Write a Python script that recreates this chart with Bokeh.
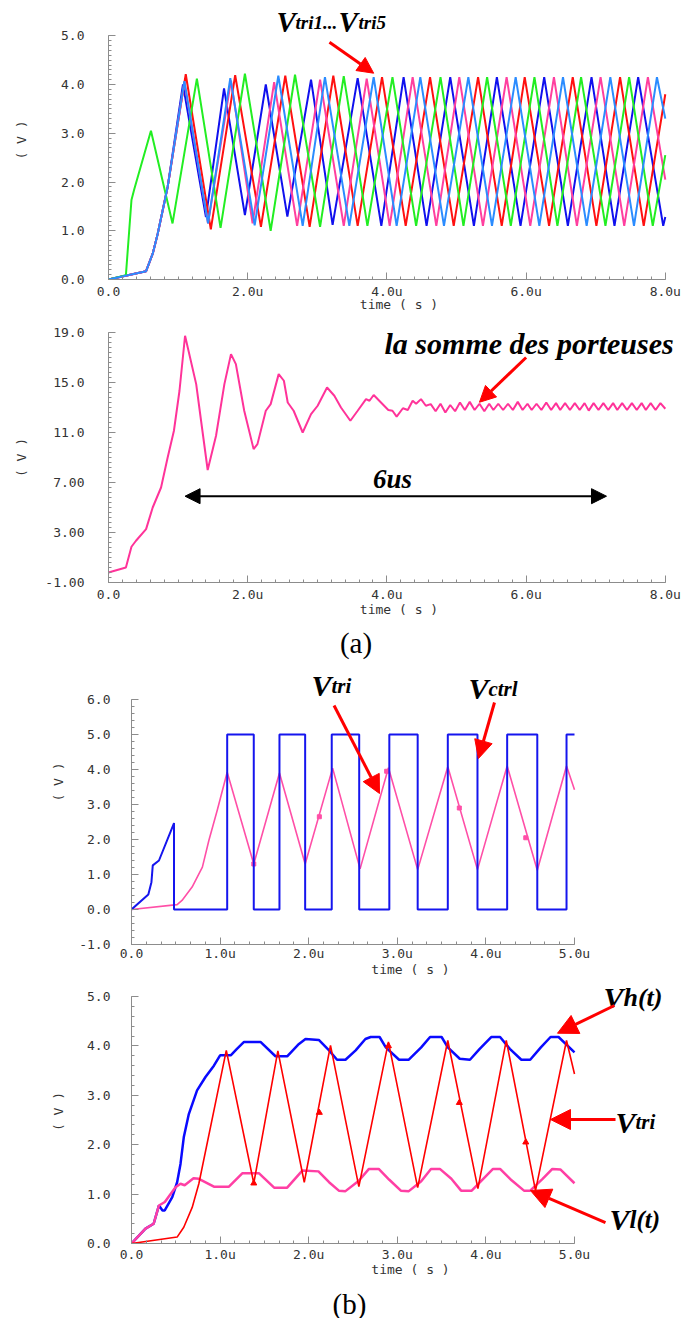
from bokeh.plotting import figure
from bokeh.models import Range1d, FixedTicker, Label, Arrow, NormalHead, Div
from bokeh.layouts import column
from bokeh.embed import file_html
from bokeh.resources import INLINE

# ---------------- data (time in microseconds, voltage in V) ----------------
# (a) top: five phase-shifted triangular carriers
red_t = [0, 0.54, 0.635, 0.707, 0.85, 1.11, 1.47, 1.82, 2.19, 2.54, 2.89, 3.23, 3.58, 3.93, 4.27, 4.62, 4.96, 5.31, 5.65, 5.98, 6.33, 6.67, 7.01, 7.35, 7.69, 8.0]
red_v = [0, 0.17, 0.53, 0.94, 1.9, 4.21, 1.03, 4.19, 1.08, 4.18, 1.08, 4.18, 1.10, 4.15, 1.10, 4.15, 1.10, 4.15, 1.10, 4.15, 1.10, 4.15, 1.10, 4.15, 1.10, 3.8]
green_t = [0, 0.25, 0.33, 0.37, 0.61, 0.92, 1.27, 1.61, 1.96, 2.33, 2.68, 3.04, 3.38, 3.72, 4.08, 4.42, 4.77, 5.10, 5.44, 5.78, 6.12, 6.45, 6.79, 7.14, 7.48, 7.82, 8.0]
green_v = [0, 0.09, 1.63, 1.85, 3.05, 1.15, 4.12, 1.06, 4.22, 1.00, 4.20, 1.08, 4.17, 1.10, 4.15, 1.10, 4.15, 1.10, 4.15, 1.10, 4.15, 1.10, 4.15, 1.10, 4.15, 1.10, 2.55]
blue_t = [0, 0.54, 0.635, 0.707, 0.85, 1.07, 1.40, 1.66, 1.96, 2.26, 2.57, 2.91, 3.22, 3.58, 3.92, 4.24, 4.57, 4.91, 5.25, 5.58, 5.92, 6.26, 6.60, 6.94, 7.27, 7.61, 7.97, 8.0]
blue_v = [0, 0.17, 0.53, 0.94, 1.9, 4.0, 1.28, 3.92, 1.32, 4.00, 1.29, 4.10, 1.12, 4.13, 1.10, 4.15, 1.10, 4.15, 1.10, 4.15, 1.10, 4.15, 1.10, 4.15, 1.10, 4.15, 1.10, 1.28]
pink_t = [0, 0.54, 0.635, 0.707, 0.85, 1.09, 1.43, 1.76, 2.07, 2.38, 2.71, 3.04, 3.38, 3.71, 4.04, 4.37, 4.71, 5.04, 5.38, 5.72, 6.06, 6.40, 6.73, 7.07, 7.41, 7.75, 8.0]
pink_v = [0, 0.17, 0.53, 0.94, 1.9, 4.05, 1.15, 4.08, 1.15, 4.05, 1.10, 4.10, 1.10, 4.12, 1.10, 4.15, 1.10, 4.15, 1.10, 4.15, 1.10, 4.15, 1.10, 4.15, 1.10, 4.15, 2.05]
lblue_t = [0, 0.54, 0.635, 0.707, 0.85, 1.09, 1.43, 1.75, 2.10, 2.44, 2.79, 3.11, 3.46, 3.81, 4.14, 4.48, 4.82, 5.17, 5.51, 5.85, 6.19, 6.53, 6.87, 7.21, 7.55, 7.88, 8.0]
lblue_v = [0, 0.17, 0.53, 0.94, 1.9, 4.07, 1.15, 4.13, 1.11, 4.18, 1.10, 4.15, 1.10, 4.15, 1.10, 4.15, 1.10, 4.15, 1.10, 4.15, 1.10, 4.15, 1.10, 4.15, 1.10, 4.15, 3.3]

# (a) bottom: sum of the carriers
sum_t = [0, 0.25, 0.33, 0.395, 0.54, 0.635, 0.755, 0.85, 0.94, 1.02, 1.10, 1.26, 1.33, 1.425, 1.545, 1.665, 1.76, 1.83, 1.95, 2.085,
         2.14, 2.26, 2.33, 2.445, 2.52, 2.575, 2.66, 2.79, 2.91, 3.005, 3.14, 3.245, 3.34, 3.475, 3.58, 3.70, 3.75, 3.81, 3.915, 4.02,
         4.08, 4.14, 4.23, 4.30, 4.37, 4.42, 4.49, 4.56, 4.63, 4.70, 4.77, 4.84, 4.91, 4.98, 5.05, 5.12, 5.19, 5.26, 5.33, 5.40,
         5.47, 5.53, 5.60, 5.67, 5.74, 5.81, 5.88, 5.95, 6.02, 6.08, 6.15, 6.22, 6.29, 6.36, 6.43, 6.49, 6.56, 6.63, 6.70, 6.77,
         6.84, 6.90, 6.97, 7.04, 7.11, 7.18, 7.25, 7.31, 7.38, 7.45, 7.52, 7.59, 7.66, 7.72, 7.79, 7.86, 7.93, 8.0]
sum_v = [-0.2, 0.2, 1.86, 2.34, 3.27, 5.0, 6.6, 9.0, 11.14, 14.34, 18.74, 14.87, 11.94, 8.0, 10.74, 14.87, 17.27, 16.47, 12.74, 9.67,
         10.07, 12.74, 13.27, 15.67, 15.14, 13.4, 12.74, 11.0, 12.47, 13.14, 14.6, 13.94, 13.0, 11.94, 12.74, 13.67, 13.54, 14.0, 13.4, 12.8,
         12.74, 12.27, 12.94, 12.8, 13.54, 13.3, 13.67, 13.14, 13.27, 12.7, 13.3, 12.6, 13.2, 12.7, 13.4, 12.8, 13.45, 12.8, 13.3, 12.7,
         13.3, 12.8, 13.3, 12.8, 13.3, 12.8, 13.45, 12.8, 13.3, 12.8, 13.3, 12.8, 13.4, 12.8, 13.35, 12.8, 13.35, 12.8, 13.35, 12.8,
         13.35, 12.75, 13.35, 12.8, 13.35, 12.8, 13.35, 12.8, 13.35, 12.8, 13.35, 12.8, 13.35, 12.8, 13.35, 12.8, 13.35, 12.9]

# (b) top: control signal and triangle
ctrl_t = [0, 0.19, 0.225, 0.24, 0.31, 0.48, 0.48, 1.08, 1.08, 1.38, 1.38, 1.67, 1.67, 1.96, 1.96, 2.26, 2.26, 2.57, 2.57, 2.91,
          2.91, 3.23, 3.23, 3.57, 3.57, 3.905, 3.905, 4.24, 4.24, 4.58, 4.58, 4.91, 4.91, 5.0]
ctrl_v = [0, 0.43, 0.78, 1.26, 1.4, 2.47, 0, 0, 5, 5, 0, 0, 5, 5, 0, 0, 5, 5, 0, 0,
          5, 5, 0, 0, 5, 5, 0, 0, 5, 5, 0, 0, 5, 5]
tri3_t = [0, 0.515, 0.57, 0.684, 0.80, 0.873, 0.967, 1.08, 1.38, 1.67, 1.96, 2.27, 2.58, 2.90, 3.23, 3.57, 3.905, 4.24, 4.58, 4.91, 5.0]
tri3_v = [0, 0.14, 0.26, 0.64, 1.21, 1.97, 2.83, 3.92, 1.30, 3.90, 1.30, 4.04, 1.16, 4.05, 1.14, 4.08, 1.14, 4.10, 1.12, 4.10, 3.42]
tri3_mk_t = [1.38, 2.12, 2.88, 3.70, 4.45]
tri3_mk_v = [1.30, 2.65, 3.95, 2.90, 2.05]

# (b) bottom: Vh, Vl and triangle
vh_t = [0, 0.158, 0.25, 0.31, 0.35, 0.375, 0.46, 0.515, 0.553, 0.59, 0.647, 0.74, 0.835, 0.93, 1.0, 1.12, 1.19, 1.27, 1.456, 1.625,
        1.757, 1.89, 1.964, 2.114, 2.23, 2.32, 2.415, 2.53, 2.64, 2.70, 2.80, 2.87, 3.02, 3.13, 3.27, 3.37, 3.50, 3.57, 3.705, 3.82,
        3.93, 4.06, 4.16, 4.27, 4.40, 4.50, 4.62, 4.73, 4.82, 5.0]
vh_v = [0, 0.3, 0.4, 0.77, 0.67, 0.67, 0.94, 1.24, 1.61, 2.15, 2.62, 3.1, 3.37, 3.6, 3.81, 3.81, 3.94, 4.08, 4.08, 3.79,
        3.79, 4.04, 4.14, 4.12, 3.91, 3.72, 3.72, 3.91, 4.14, 4.18, 4.18, 3.97, 3.72, 3.72, 3.97, 4.18, 4.18, 3.97, 3.74, 3.72,
        3.94, 4.18, 4.18, 3.94, 3.72, 3.72, 3.97, 4.18, 4.18, 3.87]
vl_t = [0, 0.158, 0.25, 0.31, 0.376, 0.497, 0.553, 0.60, 0.70, 0.76, 0.93, 1.10, 1.25, 1.44, 1.61, 1.757, 1.93, 2.11, 2.23, 2.34,
        2.415, 2.566, 2.68, 2.79, 2.91, 3.04, 3.13, 3.27, 3.38, 3.48, 3.61, 3.72, 3.84, 3.97, 4.08, 4.16, 4.29, 4.43, 4.50, 4.64,
        4.75, 4.84, 5.0]
vl_v = [0, 0.3, 0.4, 0.77, 0.84, 1.14, 1.21, 1.18, 1.32, 1.31, 1.15, 1.15, 1.42, 1.42, 1.13, 1.13, 1.48, 1.46, 1.24, 1.07,
        1.06, 1.27, 1.51, 1.51, 1.29, 1.07, 1.06, 1.26, 1.51, 1.51, 1.31, 1.07, 1.07, 1.31, 1.51, 1.51, 1.28, 1.07, 1.07, 1.31,
        1.51, 1.50, 1.22]
tri4_t = [0, 0.515, 0.59, 0.685, 0.76, 1.07, 1.38, 1.652, 1.95, 2.246, 2.566, 2.90, 3.23, 3.57, 3.91, 4.23, 4.56, 4.91, 5.0]
tri4_v = [0, 0.13, 0.33, 0.73, 1.21, 3.91, 1.22, 3.90, 1.24, 4.01, 1.15, 4.08, 1.13, 4.11, 1.11, 4.11, 1.07, 4.11, 3.43]
tri4_mk_t = [1.38, 2.12, 2.90, 3.70, 4.45]
tri4_mk_v = [1.22, 2.65, 4.00, 2.85, 2.05]

# tick labels
xt_a = [0, 2, 4, 6, 8]
xl_a = ["0.0", "2.0u", "4.0u", "6.0u", "8.0u"]
xt_b = [0, 1, 2, 3, 4, 5]
xl_b = ["0.0", "1.0u", "2.0u", "3.0u", "4.0u", "5.0u"]
yt_1 = [0, 1, 2, 3, 4, 5]
yl_1 = ["0.0", "1.0", "2.0", "3.0", "4.0", "5.0"]
yt_2 = [-1, 3, 7, 11, 15, 19]
yl_2 = ["-1.00", "3.00", "7.00", "11.0", "15.0", "19.0"]
yt_3 = [-1, 0, 1, 2, 3, 4, 5, 6]
yl_3 = ["-1.0", "0.0", "1.0", "2.0", "3.0", "4.0", "5.0", "6.0"]
yt_4 = [0, 1, 2, 3, 4, 5]
yl_4 = ["0.0", "1.0", "2.0", "3.0", "4.0", "5.0"]

# ---------------- styling helpers ----------------
AX = "#8c8c8c"
TXT = "#333333"
MONO = "DejaVu Sans Mono"
SERIF = "Liberation Serif"
W = 689


def make_fig(height, left, top, bottom, xr, yr):
    p = figure(width=W, height=height, x_range=Range1d(*xr), y_range=Range1d(*yr),
               output_backend="svg", toolbar_location=None, min_border=0,
               min_border_left=left, min_border_right=0, min_border_top=top, min_border_bottom=bottom)
    if "frame_align" in p.properties():
        p.frame_align = False
    p.outline_line_color = None
    p.xgrid.visible = False
    p.ygrid.visible = False
    p.background_fill_color = "white"
    p.border_fill_color = "white"
    return p


def style_axes(p, xt, xl, xminor, xb, yt, yl, yminor, yb, ystand, ylabstand, xstand, xlabstand):
    xa, ya = p.xaxis[0], p.yaxis[0]
    xa.ticker = FixedTicker(ticks=xt, minor_ticks=xminor)
    ya.ticker = FixedTicker(ticks=yt, minor_ticks=yminor)
    xa.major_label_overrides = {t: s for t, s in zip(xt, xl)}
    ya.major_label_overrides = {t: s for t, s in zip(yt, yl)}
    xa.bounds = xb
    ya.bounds = yb
    xa.axis_label = "time ( s )"
    ya.axis_label = "( V )"
    for a in (xa, ya):
        a.axis_line_color = AX
        a.major_tick_line_color = AX
        a.minor_tick_line_color = AX
        a.major_tick_in = 7
        a.major_tick_out = 0
        a.minor_tick_in = 3
        a.minor_tick_out = 0
        a.major_label_text_font = MONO
        a.major_label_text_font_size = "13px"
        a.major_label_text_color = TXT
        a.axis_label_text_font = MONO
        a.axis_label_text_font_size = "13px"
        a.axis_label_text_font_style = "normal"
        a.axis_label_text_color = TXT
    ya.major_label_standoff = ystand
    ya.axis_label_standoff = ylabstand
    xa.major_label_standoff = xstand
    xa.axis_label_standoff = xlabstand


def lab(p, x, y, text, size, style="bold italic", align="left", font=SERIF, off=9):
    p.add_layout(Label(x=x, y=y, y_offset=off, text=text, text_font=font, text_font_size=f"{size}px",
                       text_font_style=style, text_align=align, text_baseline="alphabetic",
                       text_color="black"))


def arr(p, x0, y0, x1, y1, color="red", width=3, head=18, both=False):
    p.add_layout(Arrow(end=NormalHead(size=head, fill_color=color, line_color=color),
                       start=NormalHead(size=head, fill_color=color, line_color=color) if both else None,
                       x_start=x0, y_start=y0, x_end=x1, y_end=y1,
                       line_color=color, line_width=width))


minor_a = [round(0.2 * i, 3) for i in range(41)]
minor_b = [i / 6 for i in range(31)]

# ---------------- (a) top ----------------
p1 = make_fig(315, 108, 0, 36, (0, 581 / 69.6), (0, 279 / 48.75))
style_axes(p1, xt_a, xl_a, minor_a, (0, 8), yt_1, yl_1, [round(0.1 * i, 3) for i in range(51)], (0, 5), 24, 29, 4, -5)
p1.line(blue_t, blue_v, line_color="#1010ee", line_width=2)
p1.line(red_t, red_v, line_color="#ff1010", line_width=2)
p1.line(pink_t, pink_v, line_color="#ff3f9f", line_width=2)
p1.line(green_t, green_v, line_color="#22ee22", line_width=2)
p1.line(lblue_t, lblue_v, line_color="#2b8cff", line_width=2)
lab(p1, 2.414, 5.093, "V", 29)
lab(p1, 2.687, 5.093, "tri1...", 19)
lab(p1, 3.305, 5.093, "V", 29)
lab(p1, 3.592, 5.093, "tri5", 19)
arr(p1, 3.175, 4.868, 3.81, 4.232, head=16)

# ---------------- (a) bottom ----------------
p2 = make_fig(304, 108, 17, 37, (0, 581 / 69.6), (-1, 19))
style_axes(p2, xt_a, xl_a, minor_a, (0, 8), yt_2, yl_2, [round(-1 + 0.4 * i, 3) for i in range(51)], (-1, 19), 24, 13, 4, -3)
p2.line(sum_t, sum_v, line_color="#ff3399", line_width=2)
lab(p2, 3.966, 17.42, "la somme des porteuses", 30)
arr(p2, 6.0, 17.0, 5.33, 13.42, head=16)
lab(p2, 4.08, 6.544, "6us", 27, align="center")
arr(p2, 1.10, 5.904, 7.155, 5.904, color="black", width=2, head=15, both=True)

# ---------------- (b) top ----------------
p3 = make_fig(360, 131, 0, 35, (0, 558 / 88.6), (-1, -1 + 325 / 35))
style_axes(p3, xt_b, xl_b, minor_b, (0, 5), yt_3, yl_3, [round(-1 + 0.2 * i, 3) for i in range(36)], (-1, 6), 21, 10, 1, -2)
p3.line(tri3_t, tri3_v, line_color="#ff4fa7", line_width=1.6)
p3.scatter(tri3_mk_t, tri3_mk_v, marker="square", size=4, color="#ff4fa7")
p3.line(ctrl_t, ctrl_v, line_color="#1515ee", line_width=2)
lab(p3, 2.534, 7.343, "(a)", 29, style="normal", align="center")
lab(p3, 2.032, 6.134, "V", 30)
lab(p3, 2.257, 6.134, "tri", 21)
arr(p3, 2.286, 5.829, 2.799, 3.314, head=18)
lab(p3, 3.804, 6.049, "V", 30)
lab(p3, 4.029, 6.049, "ctrl", 21)
arr(p3, 4.097, 5.914, 3.916, 4.314, head=18)

# ---------------- (b) bottom ----------------
p4 = make_fig(300, 131, 0, 36, (0, 558 / 88.6), (0, 264 / 49.4))
style_axes(p4, xt_b, xl_b, minor_b, (0, 5), yt_4, yl_4, [round(0.2 * i, 3) for i in range(26)], (0, 5), 21, 18, 3, -3)
p4.line(vh_t, vh_v, line_color="#0a0aff", line_width=2.5)
p4.line(vl_t, vl_v, line_color="#ff3fa4", line_width=2.5)
p4.line(tri4_t, tri4_v, line_color="#ff0000", line_width=1.6)
p4.scatter(tri4_mk_t, tri4_mk_v, marker="triangle", size=6, color="#ff0000")
lab(p4, 5.327, 4.864, "V", 30, off=6)
lab(p4, 5.553, 4.864, "h(t)", 26, off=6)
arr(p4, 5.451, 4.818, 4.808, 4.257, head=20)
lab(p4, 5.463, 2.273, "V", 30)
lab(p4, 5.688, 2.273, "tri", 21)
arr(p4, 5.463, 2.510, 4.729, 2.510, head=20)
lab(p4, 5.395, 0.297, "V", 30)
lab(p4, 5.621, 0.297, "l(t)", 25)
arr(p4, 5.350, 0.425, 4.503, 1.073, head=20)

cap_b = Div(text='<div style="width:667px;padding-left:22px;text-align:center;'
                 'font-family:\'Liberation Serif\';font-size:29px;line-height:40px;color:black;">(b)</div>',
            width=W, height=39)

page = column(p1, p2, p3, p4, cap_b, spacing=0)
open("out.html", "w").write(file_html(page, INLINE))
